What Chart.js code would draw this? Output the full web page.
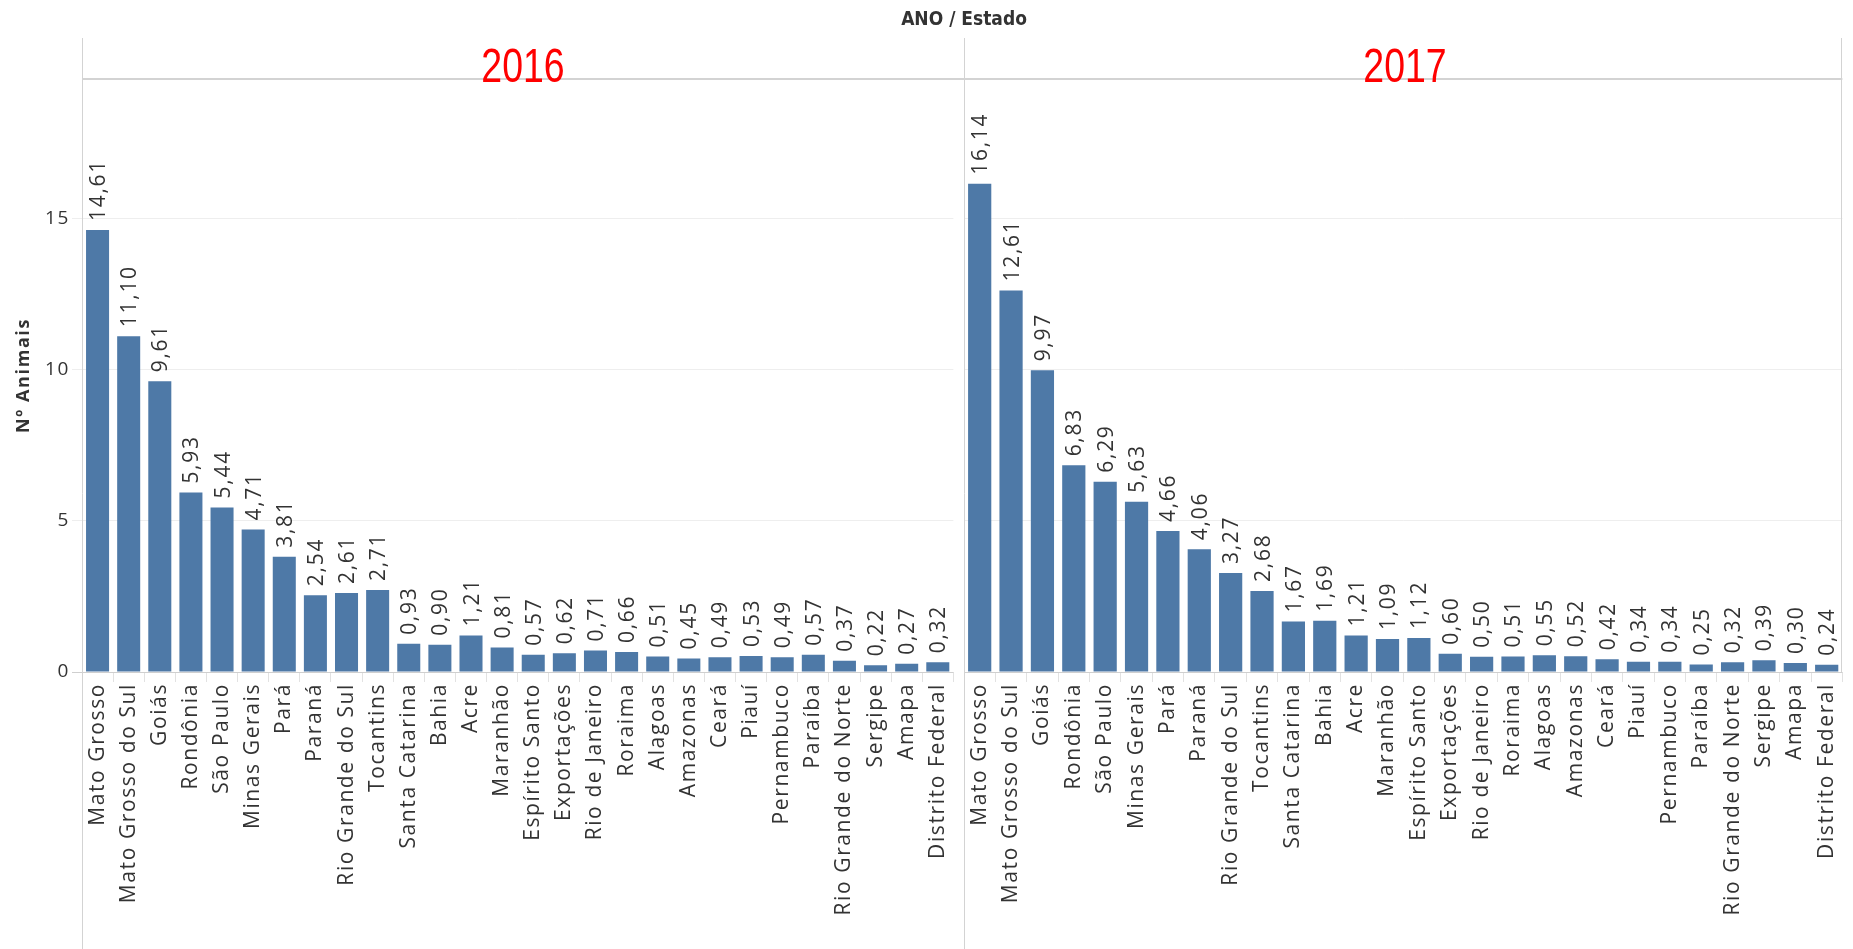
<!DOCTYPE html>
<html>
<head>
<meta charset="utf-8">
<script src="https://cdn.jsdelivr.net/npm/chart.js@4.4.1/dist/chart.umd.min.js"></script>
<style>
  html, body { margin: 0; padding: 0; background: #fff; overflow: hidden; }
  #wrap { position: relative; width: 1853px; height: 949px; }
  canvas { position: absolute; top: 0; }
  #c2016 { left: 0; }
  #c2017 { left: 964px; }
  #header {
    position: absolute; left: 964px; top: 7px; transform: translateX(-50%);
    font: bold 19px "Liberation Sans Narrow", "DejaVu Sans Condensed", sans-serif;
    color: #333; white-space: nowrap;
  }
  .ano {
    position: absolute; top: 38px; height: 48px; line-height: 48px;
    font: 48px "Liberation Sans", Arial, sans-serif; color: #ff0000;
    transform: translateX(-50%) scaleX(0.78); white-space: nowrap;
  }
</style>
</head>
<body>
<div id="wrap">
  <canvas id="c2016" width="964" height="949"></canvas>
  <canvas id="c2017" width="889" height="949"></canvas>
  <div id="header">ANO / Estado</div>
  <div class="ano" id="t2016" style="left:523px"></div>
  <div class="ano" id="t2017" style="left:1405px"></div>
</div>
<script>
var anos = ['2016', '2017'];
var estados = ['Mato Grosso', 'Mato Grosso do Sul', 'Goiás', 'Rondônia', 'São Paulo', 'Minas Gerais',
  'Pará', 'Paraná', 'Rio Grande do Sul', 'Tocantins', 'Santa Catarina', 'Bahia', 'Acre', 'Maranhão',
  'Espírito Santo', 'Exportações', 'Rio de Janeiro', 'Roraima', 'Alagoas', 'Amazonas', 'Ceará', 'Piauí',
  'Pernambuco', 'Paraíba', 'Rio Grande do Norte', 'Sergipe', 'Amapa', 'Distrito Federal'];
var animais2016 = [14.61, 11.10, 9.61, 5.93, 5.44, 4.71, 3.81, 2.54, 2.61, 2.71, 0.93, 0.90, 1.21, 0.81,
  0.57, 0.62, 0.71, 0.66, 0.51, 0.45, 0.49, 0.53, 0.49, 0.57, 0.37, 0.22, 0.27, 0.32];
var animais2017 = [16.14, 12.61, 9.97, 6.83, 6.29, 5.63, 4.66, 4.06, 3.27, 2.68, 1.67, 1.69, 1.21, 1.09,
  1.12, 0.60, 0.50, 0.51, 0.55, 0.52, 0.42, 0.34, 0.34, 0.25, 0.32, 0.39, 0.30, 0.24];
var yTicks = [0, 5, 10, 15];
var yMax = 19.6;

var barColor = '#4e79a7';
var textColor = '#333333';
var lineColor = '#d3d3d3';

document.getElementById('t2016').textContent = anos[0];
document.getElementById('t2017').textContent = anos[1];

// tableau-like spaced text + value labels on top of the bars
var spacing = {
  id: 'spacing',
  beforeDraw: function(chart) {
    chart.ctx.letterSpacing = '1.6px';
  }
};

var valueLabels = {
  id: 'valueLabels',
  afterDatasetsDraw: function(chart) {
    var ctx = chart.ctx;
    var meta = chart.getDatasetMeta(0);
    var data = chart.data.datasets[0].data;
    ctx.save();
    ctx.font = '21px "Open Sans", sans-serif';
    ctx.fillStyle = textColor;
    ctx.letterSpacing = '1.7px';
    meta.data.forEach(function(bar, i) {
      ctx.save();
      ctx.translate(bar.x, bar.y - 9);
      ctx.rotate(-Math.PI / 2);
      ctx.textAlign = 'left';
      ctx.textBaseline = 'alphabetic';
      ctx.fillText(data[i].toFixed(2).replace('.', ','), 0, 7.5);
      ctx.restore();
    });
    ctx.restore();
  }
};

// pane borders like the tableau sheet
var frame = {
  id: 'frame',
  afterDraw: function(chart, args, opts) {
    var ctx = chart.ctx;
    var a = chart.chartArea;
    ctx.save();
    ctx.strokeStyle = lineColor;
    ctx.lineWidth = 1;
    ctx.beginPath();
    ctx.moveTo(Math.round(a.left) + 0.5, 38);
    ctx.lineTo(Math.round(a.left) + 0.5, 949);
    if (opts.rightEdge) {
      ctx.moveTo(Math.round(a.right) - 0.5, 38);
      ctx.lineTo(Math.round(a.right) - 0.5, a.bottom);
    }
    ctx.stroke();
    ctx.lineWidth = 2;
    ctx.beginPath();
    ctx.moveTo(a.left, 79);
    ctx.lineTo(opts.rightEdge ? a.right : chart.width, 79);
    ctx.stroke();
    ctx.restore();
  }
};

function makeChart(id, values, showAxis) {
  var ctx = document.getElementById(id).getContext('2d');
  return new Chart(ctx, {
    type: 'bar',
    data: {
      labels: estados,
      datasets: [{
        data: values,
        backgroundColor: barColor,
        borderWidth: 0,
        barPercentage: 0.74,
        categoryPercentage: 1
      }]
    },
    options: {
      responsive: false,
      animation: false,
      layout: { autoPadding: false, padding: { left: 0, right: showAxis ? 0 : 6, top: 79, bottom: 0 } },
      plugins: {
        legend: { display: false },
        tooltip: { enabled: false },
        frame: { rightEdge: !showAxis }
      },
      scales: {
        x: {
          grid: {
            offset: true,
            drawOnChartArea: false,
            drawTicks: true,
            tickLength: 10,
            color: '#e2e2e2'
          },
          border: { display: false },
          ticks: {
            autoSkip: false,
            maxRotation: 90,
            minRotation: 90,
            padding: 1,
            color: textColor,
            font: { family: '"Open Sans", sans-serif', size: 21 }
          },
          afterFit: function(scale) { scale.height = 949 - 672; }
        },
        y: {
          min: 0,
          max: yMax,
          afterBuildTicks: function(scale) {
            scale.ticks = yTicks.map(function(v) { return { value: v }; });
          },
          grid: {
            drawTicks: showAxis,
            tickLength: 10,
            color: function(c) { return c.tick && c.tick.value === 0 ? '#cfcfcf' : '#eeeeee'; }
          },
          border: { display: false },
          ticks: {
            display: showAxis,
            padding: 2,
            color: textColor,
            font: { family: '"Open Sans", sans-serif', size: 19 }
          },
          title: {
            display: showAxis,
            text: 'Nº Animais',
            color: textColor,
            font: { family: '"Open Sans", sans-serif', size: 18, weight: 'bold' },
            padding: { top: 13, bottom: 0 }
          },
          afterFit: function(scale) { scale.width = showAxis ? 82 : 0; }
        }
      }
    },
    plugins: [spacing, valueLabels, frame]
  });
}

makeChart('c2016', animais2016, true);
makeChart('c2017', animais2017, false);
</script>
</body>
</html>
